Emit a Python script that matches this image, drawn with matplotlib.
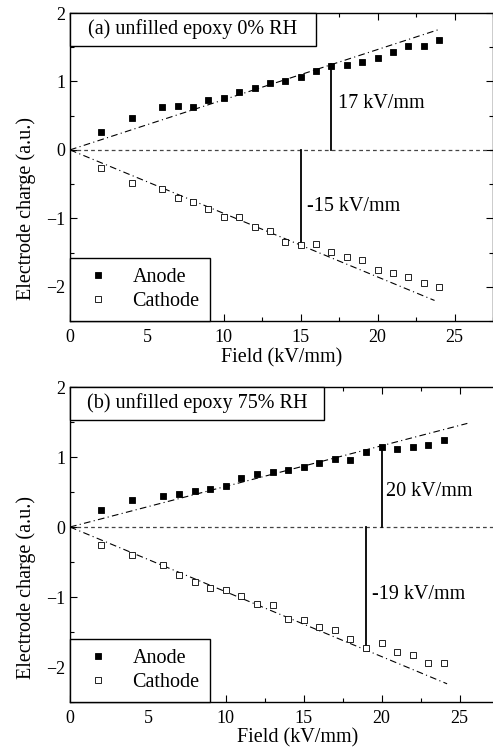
import matplotlib
matplotlib.use("Agg")
import matplotlib.pyplot as plt
from matplotlib.patches import Rectangle
from matplotlib.ticker import MultipleLocator

plt.rcParams['font.family'] = ['Liberation Serif', 'DejaVu Serif']
plt.rcParams['mathtext.fontset'] = 'stix'

field = [2, 4, 6, 7, 8, 9, 10, 11, 12, 13, 14, 15, 16, 17, 18, 19, 20, 21, 22, 23, 24]

anode_a = [0.265, 0.466, 0.62, 0.64, 0.62, 0.725, 0.765, 0.853, 0.91, 0.975, 1.01,
           1.07, 1.157, 1.225, 1.245, 1.284, 1.343, 1.436, 1.515, 1.515, 1.60]
cathode_a = [-0.26, -0.49, -0.574, -0.71, -0.765, -0.868, -0.985, -0.985, -1.12, -1.18,
             -1.34, -1.39, -1.37, -1.49, -1.57, -1.61, -1.76, -1.80, -1.86, -1.95, -2.01]

anode_b = [0.243, 0.381, 0.447, 0.471, 0.51, 0.547, 0.59, 0.70, 0.757, 0.781, 0.814,
           0.857, 0.919, 0.967, 0.957, 1.071, 1.147, 1.11, 1.143, 1.171, 1.243]
cathode_b = [-0.257, -0.40, -0.538, -0.69, -0.786, -0.876, -0.90, -0.98, -1.096, -1.12,
             -1.31, -1.33, -1.424, -1.471, -1.595, -1.733, -1.657, -1.786, -1.829, -1.943, -1.947]

# fitted line: (end field, end charge)
fit_anode_a = (24.0, 1.76)
fit_cathode_a = (23.7, -2.20)
fit_anode_b = (25.5, 1.48)
fit_cathode_b = (24.2, -2.24)

# threshold markers: (field, charge at line)
thr_anode_a = (17, 1.25)
thr_cathode_a = (15, -1.39)
thr_anode_b = (20, 1.16)
thr_cathode_b = (19, -1.75)

labels_a = ["17 kV/mm", "-15 kV/mm"]
labels_b = ["20 kV/mm", "-19 kV/mm"]
titles = ["(a) unfilled epoxy 0% RH", "(b) unfilled epoxy 75% RH"]

fig = plt.figure(figsize=(4.93, 7.51), dpi=100)
ax1 = fig.add_axes([70/493, 1-321/751, (493-70)/493, (321-13)/751])
ax2 = fig.add_axes([70/493, 1-702/751, (525-70)/493, (702-387)/751])

FS_TICK = 13
FS_LAB = 14.5
FS_ANN = 14.5

def setup(ax, xmax, title, anode, cathode, fa, fc, ta, tc, labs, lab_pos, box_w, box_h):
    ax.set_xlim(0, xmax)
    ax.set_ylim(-2.5, 2)
    ax.axhline(0, color='#444444', lw=0.9, dashes=(3, 2.5), zorder=1)
    ax.plot([0, fa[0]], [0, fa[1]], color='black', lw=0.8, dashes=(6, 3, 1, 3), zorder=2)
    ax.plot([0, fc[0]], [0, fc[1]], color='black', lw=0.8, dashes=(6, 3, 1, 3), zorder=2)
    ax.plot([ta[0], ta[0]], [0, ta[1]], color='black', lw=1.3, zorder=2)
    ax.plot([tc[0], tc[0]], [0, tc[1]], color='black', lw=1.3, zorder=2)
    ax.plot(field, anode, 's', ms=4.4, mfc='black', mec='black', mew=0.6, ls='none',
            label='Anode', zorder=3)
    ax.plot(field, cathode, 's', ms=4.4, mfc='white', mec='black', mew=0.6, ls='none',
            label='Cathode', zorder=3)
    ax.text(lab_pos[0][0], lab_pos[0][1], labs[0], fontsize=FS_ANN, va='center', ha='left')
    ax.text(lab_pos[1][0], lab_pos[1][1], labs[1], fontsize=FS_ANN, va='center', ha='left')
    ax.add_patch(Rectangle((0, 1 - box_h), box_w, box_h, transform=ax.transAxes,
                           facecolor='white', edgecolor='black', lw=1.0, zorder=4,
                           clip_on=False))
    ax.text(box_w / 2, 1 - box_h / 2, title, transform=ax.transAxes, fontsize=FS_ANN,
            ha='center', va='center', zorder=5)
    leg = ax.legend(loc='lower left', borderaxespad=0, fancybox=False, edgecolor='black',
                    framealpha=1, fontsize=FS_ANN, handlelength=1.8, handletextpad=0.8,
                    borderpad=0.5, labelspacing=0.25, markerscale=1.0)
    leg.get_frame().set_linewidth(1.0)
    ax.xaxis.set_major_locator(MultipleLocator(5))
    ax.xaxis.set_minor_locator(MultipleLocator(2.5))
    ax.yaxis.set_major_locator(MultipleLocator(1))
    ax.yaxis.set_minor_locator(MultipleLocator(0.5))
    ax.tick_params(which='both', direction='in', top=True, right=True, labelsize=FS_TICK)
    ax.tick_params(which='major', length=5, width=0.8)
    ax.tick_params(which='minor', length=3, width=0.8)
    ax.tick_params(axis='x', pad=6)
    ax.set_xlabel('Field (kV/mm)', fontsize=FS_LAB)
    ax.set_ylabel('Electrode charge (a.u.)', fontsize=FS_LAB)
    for s in ax.spines.values():
        s.set_linewidth(1.0)

setup(ax1, 27.5, titles[0], anode_a, cathode_a, fit_anode_a, fit_cathode_a,
      thr_anode_a, thr_cathode_a, labels_a, [(17.4, 0.68), (15.4, -0.82)],
      246/423, 33/308)
setup(ax2, 29.2, titles[1], anode_b, cathode_b, fit_anode_b, fit_cathode_b,
      thr_anode_b, thr_cathode_b, labels_b, [(20.25, 0.5), (19.4, -0.97)],
      254/455, 33/315)
ax1.yaxis.set_label_coords(-0.08, 0.364)
ax1.xaxis.set_label_coords(0.5, -0.087)
ax2.yaxis.set_label_coords(-0.0745, 0.365)
ax2.xaxis.set_label_coords(0.5, -0.083)

fig.savefig('out.png', dpi=100)
